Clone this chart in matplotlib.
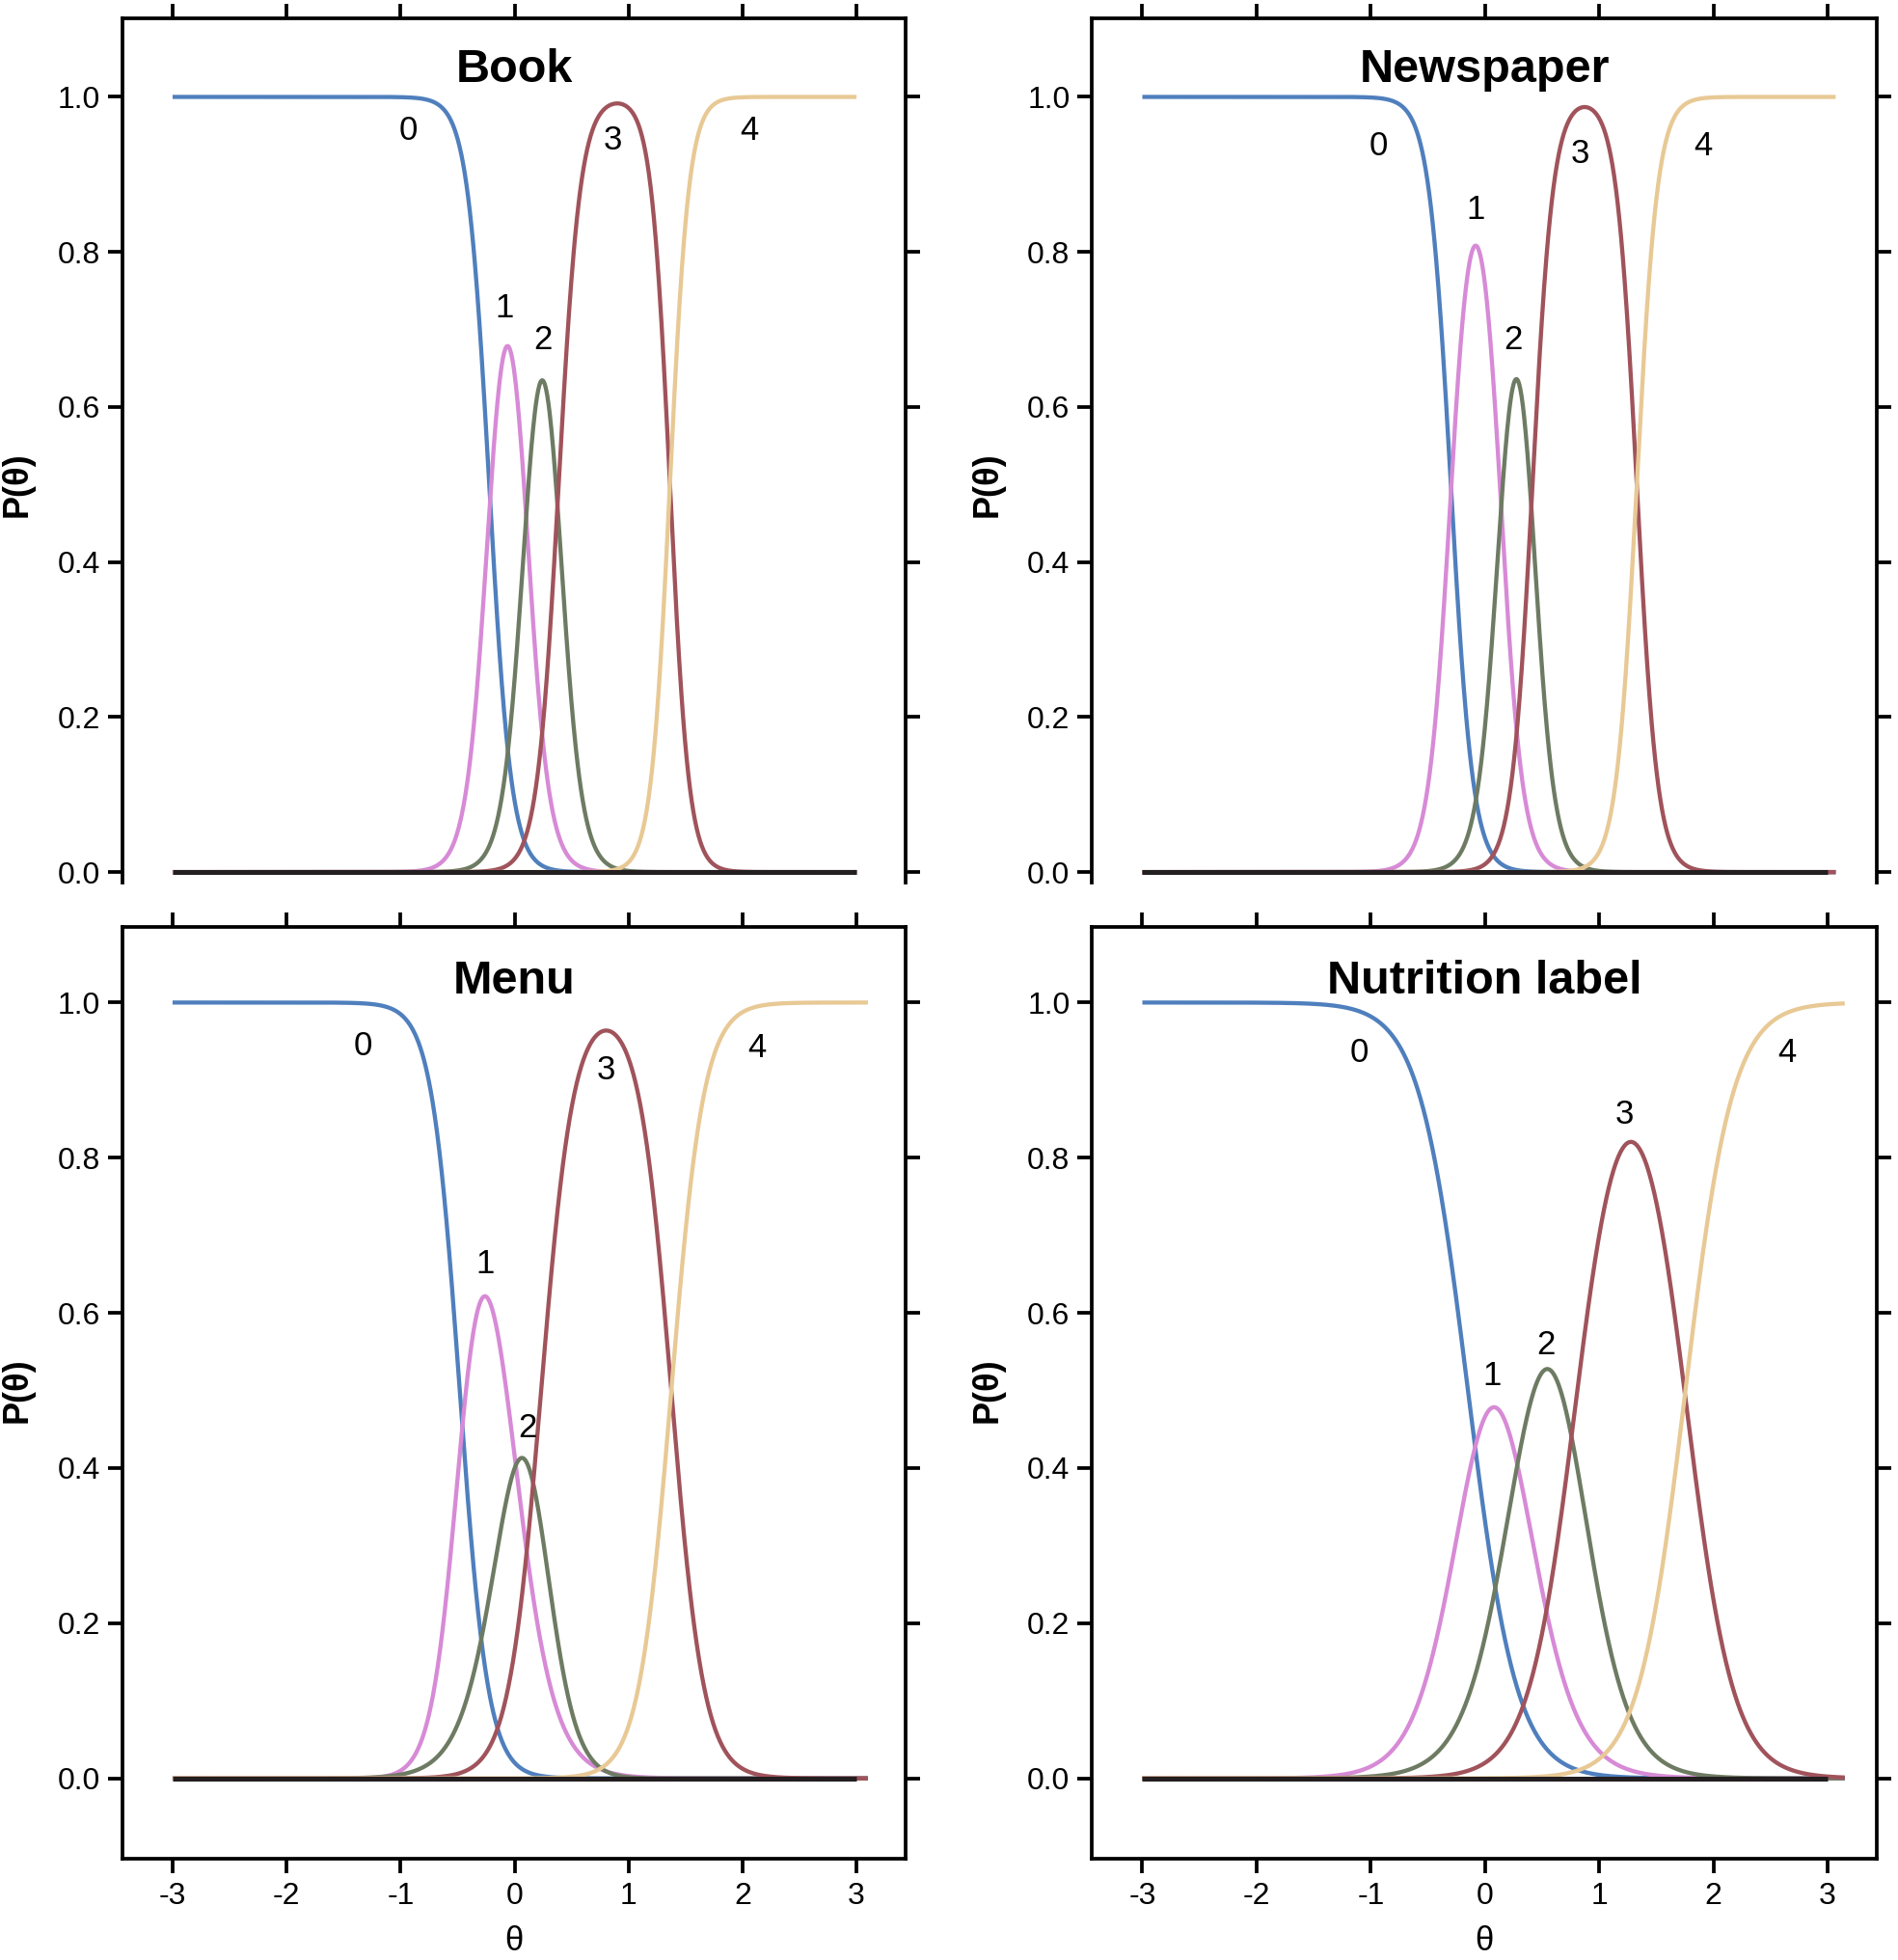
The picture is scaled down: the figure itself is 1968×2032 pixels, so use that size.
import numpy as np
import matplotlib
matplotlib.use("Agg")
import matplotlib.pyplot as plt

plt.rcParams['font.family'] = ['Liberation Sans', 'DejaVu Sans']

# ---- data (graded-response category curves, parameters) ----
titles = ["Book", "Newspaper", "Menu", "Nutrition label"]
categories = ["0", "1", "2", "3", "4"]

book_thresholds = [-0.222, 0.099, 0.387, 1.363]
book_slopes = [10.3, 10.3, 10.5, 12.0]
newspaper_thresholds = [-0.299, 0.1345, 0.4155, 1.329]
newspaper_slopes = [10.3, 10.4, 11.0, 11.0]
menu_thresholds = [-0.481, -0.046, 0.233, 1.375]
menu_slopes = [8.06, 5.53, 7.0, 7.0]
nutrition_thresholds = [-0.149, 0.301, 0.80, 1.755]
nutrition_slopes = [4.7, 4.56, 4.85, 4.85]

theta_max = [3.0, 3.07, 3.1, 3.15]

# curve-number label positions (theta, P)
book_label_theta = [-0.93, -0.09, 0.25, 0.86, 2.06]
book_label_p = [0.956, 0.727, 0.687, 0.944, 0.956]
newspaper_label_theta = [-0.93, -0.08, 0.25, 0.83, 1.91]
newspaper_label_p = [0.937, 0.855, 0.687, 0.926, 0.937]
menu_label_theta = [-1.33, -0.26, 0.11, 0.80, 2.13]
menu_label_p = [0.944, 0.663, 0.452, 0.913, 0.942]
nutrition_label_theta = [-1.10, 0.065, 0.535, 1.22, 2.64]
nutrition_label_p = [0.935, 0.519, 0.558, 0.856, 0.935]

x_ticks = [-3, -2, -1, 0, 1, 2, 3]
x_tick_labels = ["-3", "-2", "-1", "0", "1", "2", "3"]
y_ticks = [0.0, 0.2, 0.4, 0.6, 0.8, 1.0]
y_tick_labels = ["0.0", "0.2", "0.4", "0.6", "0.8", "1.0"]

colors = ["#4f7fbd", "#d78ad6", "#6e7b63", "#a0535b", "#e8c995"]

thresholds = [book_thresholds, newspaper_thresholds, menu_thresholds, nutrition_thresholds]
slopes = [book_slopes, newspaper_slopes, menu_slopes, nutrition_slopes]
label_theta = [book_label_theta, newspaper_label_theta, menu_label_theta, nutrition_label_theta]
label_p = [book_label_p, newspaper_label_p, menu_label_p, nutrition_label_p]


def category_probs(theta, b, a):
    b = np.asarray(b)[None, :]
    a = np.asarray(a)[None, :]
    cum = 1.0 / (1.0 + np.exp(-a * (theta[:, None] - b)))
    cum = np.concatenate([np.ones((len(theta), 1)), cum, np.zeros((len(theta), 1))], axis=1)
    return np.clip(cum[:, :-1] - cum[:, 1:], 0, 1)


fig = plt.figure(figsize=(19.68, 20.32), dpi=100)
positions = [[0.0645, 0.5498, 0.4126, 0.4407], [0.5754, 0.5498, 0.4134, 0.4407],
             [0.0645, 0.0519, 0.4126, 0.4750], [0.5754, 0.0519, 0.4134, 0.4750]]

SPW = 2.7
FS = 23
for i in range(4):
    ax = fig.add_axes(positions[i])
    top_row = i < 2
    th = np.linspace(-3, theta_max[i], 1200)
    P = category_probs(th, thresholds[i], slopes[i])
    for k in range(5):
        ax.plot(th, P[:, k], color=colors[k], lw=3.1, solid_capstyle='butt', zorder=2)
    ax.plot([-3, 3], [0, 0], color="#231f20", lw=3.6, solid_capstyle='butt', zorder=3)
    for k in range(5):
        ax.text(label_theta[i][k], label_p[i][k], categories[k], fontsize=25,
                ha='center', va='center', zorder=4)
    ax.set_xlim(-3.44, 3.43)
    if top_row:
        ax.set_ylim(-0.0133, 1.101)
        ax.text(0.0, 1.035, titles[i], fontsize=35, fontweight='bold', ha='center', va='center')
    else:
        ax.set_ylim(-0.103, 1.097)
        ax.text(0.0, 1.027, titles[i], fontsize=35, fontweight='bold', ha='center', va='center')
    ax.set_xticks(x_ticks)
    ax.set_yticks(y_ticks)
    ax.set_yticklabels(y_tick_labels, fontsize=FS)
    for sp in ax.spines.values():
        sp.set_linewidth(SPW)
    ax.tick_params(axis='both', direction='out', length=10.5, width=SPW, pad=6)
    ax.tick_params(axis='y', left=True, right=True, labelleft=True, labelright=False)
    if top_row:
        ax.spines['bottom'].set_visible(False)
        ax.tick_params(axis='x', top=True, bottom=False, labelbottom=False, labeltop=False)
        ax.set_xticklabels([])
    else:
        ax.set_xticklabels(x_tick_labels, fontsize=FS)
        ax.tick_params(axis='x', top=True, bottom=True, labelbottom=True, labeltop=False, pad=7)
        ax.set_xlabel("θ", fontsize=25, labelpad=11)
    ax.set_ylabel("P(θ)", fontsize=26, fontweight='bold')
    ylo, yhi = ax.get_ylim()
    ax.yaxis.set_label_coords(-0.112, (0.5 - ylo) / (yhi - ylo))

fig.savefig("out.png", dpi=100)
